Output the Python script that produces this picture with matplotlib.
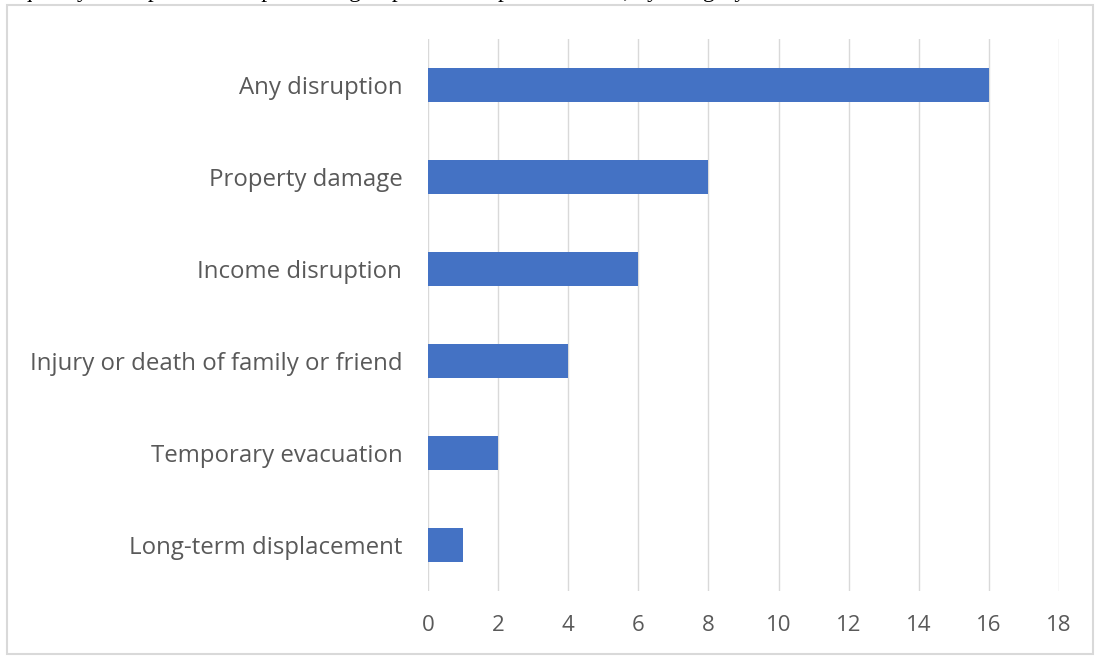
import matplotlib.pyplot as plt
from matplotlib.patches import Rectangle

categories = ["Any disruption", "Property damage", "Income disruption",
              "Injury or death of family or friend", "Temporary evacuation",
              "Long-term displacement"]
counts = [16, 8, 6, 4, 2, 1]
xticks = [0, 2, 4, 6, 8, 10, 12, 14, 16, 18]
title = "Frequency of respondents experiencing impacts from past disasters, by category"

fig = plt.figure(figsize=(10.95, 6.58), dpi=100)
ax = fig.add_axes([428 / 1095, 1 - 591 / 658, (1059 - 428) / 1095, (591 - 39) / 658])

# рамка вокруг диаграммы
fig.patches.append(Rectangle((7 / 1095, 1 - 654 / 658), 1086 / 1095, 649 / 658,
                             transform=fig.transFigure, fill=False,
                             edgecolor="#d9d9d9", linewidth=1.5))

# заголовок почти полностью обрезан сверху (как в исходнике)
fig.text(-0.01, 1 + 3 / 658, title, family="Liberation Serif", fontsize=17,
         va="baseline", ha="left", color="black")

y = list(range(len(categories)))[::-1]
ax.barh(y, counts, height=0.37, color="#4472C4", zorder=3)

ax.set_xlim(0, 18)
ax.set_ylim(-0.5, len(categories) - 0.5)
ax.set_xticks(xticks)
ax.set_yticks(y)
ax.set_yticklabels(categories)
ax.grid(axis="x", color="#d9d9d9", linewidth=1, zorder=0)
for s in ax.spines.values():
    s.set_visible(False)
ax.tick_params(length=0, labelcolor="#595959")
ax.tick_params(axis="x", pad=17, labelsize=16)
ax.tick_params(axis="y", pad=18.5, labelsize=17.3)
for lab in ax.get_xticklabels() + ax.get_yticklabels():
    lab.set_family("Open Sans")

fig.savefig("out.png", dpi=100)
